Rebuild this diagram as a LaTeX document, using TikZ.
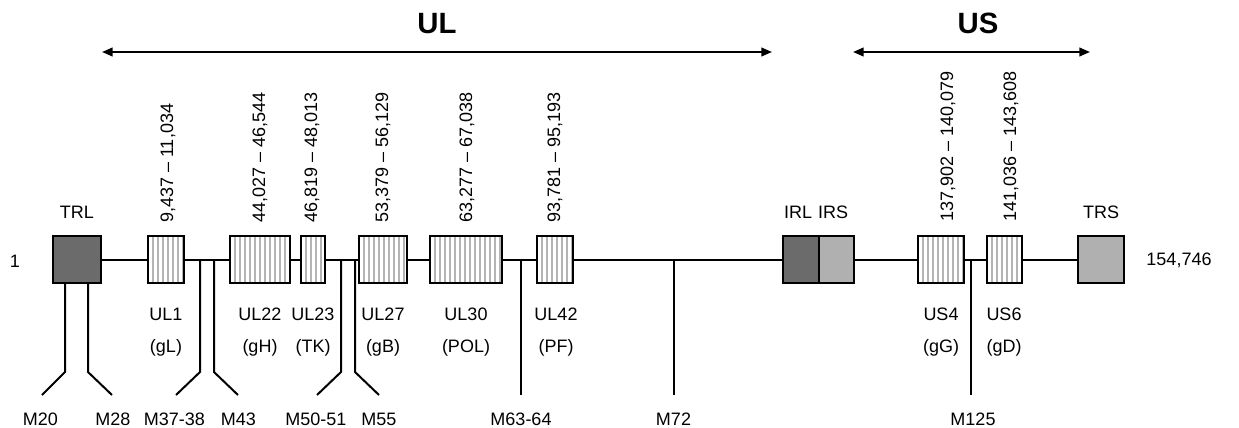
\documentclass[tikz,border=0pt]{standalone}
\usepackage{fontspec}
\setmainfont{Liberation Sans}
\usetikzlibrary{arrows.meta}
\definecolor{darkbox}{HTML}{6B6B6B}
\definecolor{lightbox}{HTML}{B0B0B0}
\definecolor{stripe}{HTML}{B4B4B4}
\begin{document}
\begin{tikzpicture}[x=0.75pt,y=-0.75pt,
  seg/.style={line width=1.5pt},
  bw/.style={minimum width=#1*0.75pt},
  genebox/.style={draw, line width=1.5pt, inner sep=0pt, minimum height=35.25pt},
  hatched/.style={genebox, fill=white, path picture={
      \foreach \k in {1,...,25}{\draw[stripe, line width=0.9pt]
        ([xshift=\k*3.75pt]path picture bounding box.south west) --
        ([xshift=\k*3.75pt]path picture bounding box.north west);}}},
  darkrep/.style={genebox, fill=darkbox},
  lightrep/.style={genebox, fill=lightbox},
  lab/.style={font=\fontsize{13.5}{16}\selectfont, inner sep=0pt},
  rng/.style={lab, rotate=90, anchor=west},
  title/.style={font=\bfseries\fontsize{22}{26}\selectfont, inner sep=0pt},
  arr/.style={line width=1.5pt, {Triangle[length=8pt,width=6.5pt]}-{Triangle[length=8pt,width=6.5pt]}}
]
\useasboundingbox (0,0) rectangle (1239,428);

% titles and arrows
\node[title] (ULt) at (437,24) {UL};
\node[title] (USt) at (978,23) {US};
\coordinate (ulL) at (102,52); \coordinate (ulR) at (772,52);
\coordinate (usL) at (853,52); \coordinate (usR) at (1090,52);
\draw[arr] (ulL) -- (ulR);
\draw[arr] (usL) -- (usR);

% boxes
\node[darkrep, bw=48] (TRL) at (77,259.5) {};
\node[hatched, bw=36] (UL1) at (166,259.5) {};
\node[hatched, bw=60] (UL22) at (260,259.5) {};
\node[hatched, bw=24] (UL23) at (313,259.5) {};
\node[hatched, bw=48] (UL27) at (383,259.5) {};
\node[hatched, bw=72] (UL30) at (466,259.5) {};
\node[hatched, bw=36] (UL42) at (555,259.5) {};
\node[darkrep, bw=36] (IRL) at (801,259.5) {};
\node[lightrep, bw=35] (IRS) at (836.5,259.5) {};
\node[hatched, bw=46] (US4) at (941,259.5) {};
\node[hatched, bw=35] (US6) at (1004.5,259.5) {};
\node[lightrep, bw=46] (TRS) at (1101,259.5) {};

% main line
\draw[seg] (TRL.east) -- (UL1.west)
           (UL1.east) -- (UL22.west)
           (UL22.east) -- (UL23.west)
           (UL23.east) -- (UL27.west)
           (UL27.east) -- (UL30.west)
           (UL30.east) -- (UL42.west)
           (UL42.east) -- (IRL.west)
           (IRS.east) -- (US4.west)
           (US4.east) -- (US6.west)
           (US6.east) -- (TRS.west);

% end labels
\node[lab] (start) at (15,261) {1};
\node[lab] (end) at (1179,260) {154,746};

% repeat labels
\node[lab] (lTRL) at (77,212) {TRL};
\node[lab] (lIRL) at (798,212) {IRL};
\node[lab] (lIRS) at (833,212) {IRS};
\node[lab] (lTRS) at (1101,212) {TRS};

% gene names and products
\node[lab] (nUL1) at (166,314) {UL1};   \node[lab] (pUL1) at (166,348) {(gL)};
\node[lab] (nUL22) at (260,314) {UL22}; \node[lab] (pUL22) at (260,348) {(gH)};
\node[lab] (nUL23) at (313,314) {UL23}; \node[lab] (pUL23) at (313,348) {(TK)};
\node[lab] (nUL27) at (383,314) {UL27}; \node[lab] (pUL27) at (383,348) {(gB)};
\node[lab] (nUL30) at (466,314) {UL30}; \node[lab] (pUL30) at (466,348) {(POL)};
\node[lab] (nUL42) at (556,314) {UL42}; \node[lab] (pUL42) at (556,348) {(PF)};
\node[lab] (nUS4) at (941,314) {US4};   \node[lab] (pUS4) at (941,348) {(gG)};
\node[lab] (nUS6) at (1004,314) {US6};  \node[lab] (pUS6) at (1004,348) {(gD)};

% coordinate ranges
\node[rng] (rUL1) at (168,223) {9,437 -- 11,034};
\node[rng] (rUL22) at (260,223) {44,027 -- 46,544};
\node[rng] (rUL23) at (312,223) {46,819 -- 48,013};
\node[rng] (rUL27) at (383,223) {53,379 -- 56,129};
\node[rng] (rUL30) at (467,223) {63,277 -- 67,038};
\node[rng] (rUL42) at (555,223) {93,781 -- 95,193};
\node[rng] (rUS4) at (948,222) {137,902 -- 140,079};
\node[rng] (rUS6) at (1011,222) {141,036 -- 143,608};

% mutant branches
\coordinate (t20) at (65,283); \coordinate (k20) at (65,372); \coordinate (e20) at (42,395);
\coordinate (t28) at (88,283); \coordinate (k28) at (88,372); \coordinate (e28) at (112,395);
\coordinate (t37) at (200,259.5); \coordinate (k37) at (200,372); \coordinate (e37) at (176,395);
\coordinate (t43) at (214,259.5); \coordinate (k43) at (214,372); \coordinate (e43) at (238,395);
\coordinate (t50) at (341,259.5); \coordinate (k50) at (341,372); \coordinate (e50) at (317,395);
\coordinate (t55) at (355,259.5); \coordinate (k55) at (355,372); \coordinate (e55) at (379,395);
\coordinate (t63) at (521,259.5); \coordinate (e63) at (521,395);
\coordinate (t72) at (674,259.5); \coordinate (e72) at (674,395);
\coordinate (t125) at (971,259.5); \coordinate (e125) at (971,395);
\draw[seg] (t20) -- (k20) -- (e20);
\draw[seg] (t28) -- (k28) -- (e28);
\draw[seg] (t37) -- (k37) -- (e37);
\draw[seg] (t43) -- (k43) -- (e43);
\draw[seg] (t50) -- (k50) -- (e50);
\draw[seg] (t55) -- (k55) -- (e55);
\draw[seg] (t63) -- (e63);
\draw[seg] (t72) -- (e72);
\draw[seg] (t125) -- (e125);

\node[lab] (M20) at (40.5,419) {M20};
\node[lab] (M28) at (113,419) {M28};
\node[lab] (M37) at (174.5,419) {M37-38};
\node[lab] (M43) at (238.5,419) {M43};
\node[lab] (M50) at (316,419) {M50-51};
\node[lab] (M55) at (379,419) {M55};
\node[lab] (M63) at (521,419) {M63-64};
\node[lab] (M72) at (673.5,419) {M72};
\node[lab] (M125) at (973,419) {M125};
\end{tikzpicture}
\end{document}
